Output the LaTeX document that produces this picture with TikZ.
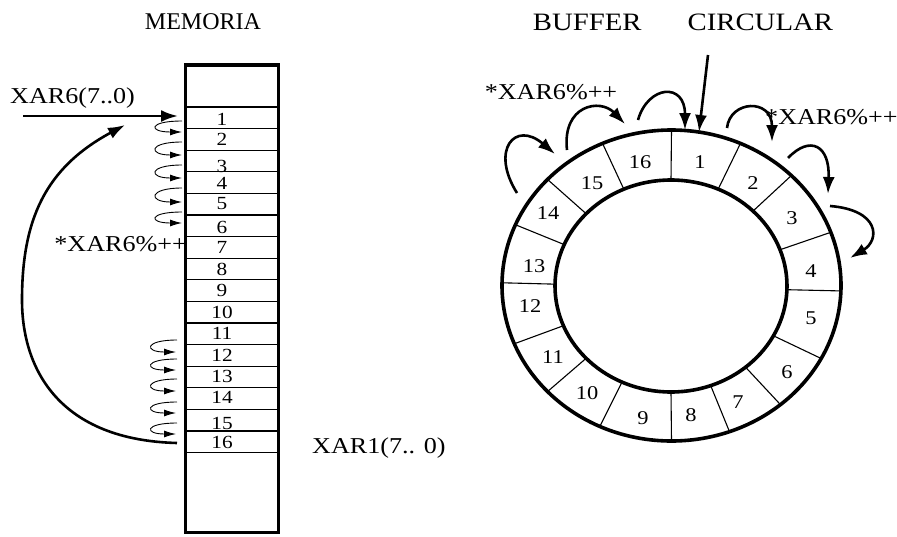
\documentclass[tikz,border=0pt]{standalone}
\usepackage{fontspec}
\setmainfont{Liberation Serif}[FakeStretch=1.15]
\newfontfamily\plainserif{Liberation Serif}
\usetikzlibrary{arrows.meta,calc}

\begin{document}
\begin{tikzpicture}[x=1pt,y=-1pt,
  lbl/.style={inner sep=0pt, font=\fontsize{22.7}{26}\selectfont},
  cellnum/.style={inner sep=0pt, font=\fontsize{18.5}{20}\selectfont},
  ringnum/.style={inner sep=0pt, font=\fontsize{19.5}{22}\selectfont},
  thickarrow/.style={line width=2.6pt, -{Latex[length=17pt,width=12pt]}},
  curl/.style={line width=0.9pt, -{Latex[length=12pt,width=7pt]}},
  ring/.style={line width=3.6pt},
  divider/.style={line width=1.1pt},
  border/.style={draw, line width=3.6pt, inner sep=0pt},
]
\useasboundingbox (0,0) rectangle (897,536);

% ---------- titles ----------
\node[inner sep=0pt, font=\plainserif\fontsize{24}{28}\selectfont] (tmem) at (203,22) {MEMORIA};
\node[inner sep=0pt, font=\fontsize{25}{28}\selectfont] (tbuf) at (683,22)
  {BUFFER\hspace{46pt}CIRCULAR};

% ---------- memory column ----------
\foreach \k in {0,...,16}
  \draw[divider] (185.5,{107+21.6*\k}) -- (278.5,{107+21.6*\k});
\node[border, minimum width=93pt, minimum height=467.5pt] (mem) at (232,298.75) {};

\foreach \n/\y in {1/119,2/139,3/166,4/183,5/204,6/227,7/247,8/269,9/290,10/312,
                   11/333,12/355,13/376,14/397,15/423,16/442}
  \node[cellnum] (cell\n) at (222,\y) {\n};

\node[lbl, anchor=base west] (xar6) at (10,103) {XAR6(7..0)};
\node[lbl, anchor=base east] (incmem) at (187,251) {*XAR6\%++};
\node[lbl, anchor=base west] (xar1) at (312,453) {XAR1(7.. 0)};

% pointer arrow into cell 1
\coordinate (ps) at (23,116);
\coordinate (pt) at (178,116);
\draw[thickarrow] (ps) -- (pt);

% wrap-around arrow from cell 16 back to cell 1
\coordinate (ws) at (177,443);
\coordinate (wt) at (125,125);
\draw[thickarrow] (ws) .. controls (60,440) and (22,370) .. (22,300)
                  .. controls (22,220) and (45,168) .. (wt);

% small step arrows, upper group
\foreach \s/\t in {121/132,142/155,165/178,188/202,212/223}
  \draw[curl] (182,\s) .. controls (148,\s) and (148,\t) .. (182,\t);
% small step arrows, lower group
\foreach \s/\t in {340/352,359/370,379/391,402/413,423/434}
  \draw[curl] (177,\s) .. controls (144,\s) and (144,\t) .. (176,\t);

% ---------- circular buffer ----------
\foreach \a in {90,66,45,20,-2,-28,-50,-70,-90,-115,-137,-158,179,157,137,114}
  \draw[divider] ({671.5+169.5*cos(\a)},{285.5-155.5*sin(\a)})
              -- ({671+116*cos(\a)},{286-106*sin(\a)});
\draw[ring] (671.5,285.5) ellipse [x radius=169.5pt, y radius=155.5pt];
\draw[ring] (671,286) ellipse [x radius=116pt, y radius=106pt];

\foreach \n/\x/\y in {1/700/162,2/753/183,3/792/218,4/811/271,5/811/318,6/787/372,
                      7/738/402,8/691/415,9/643/418,10/587/393,11/553/357,12/530/306,
                      13/534/266,14/548/213,15/592/183,16/640/162}
  \node[ringnum] (r\n) at (\x,\y) {\n};

\node[lbl] (incl) at (551,92) {*XAR6\%++};
\node[lbl, anchor=west] (incr) at (765,117) {*XAR6\%++};

% pointer arrow onto the ring
\coordinate (rps) at (708,55);
\coordinate (rpt) at (699,132);
\draw[thickarrow] (rps) -- (rpt);

% step arrows around the ring
\coordinate (a1s) at (517,193); \coordinate (a1t) at (555,154);
\coordinate (a2s) at (567,150); \coordinate (a2t) at (625,124);
\coordinate (a3s) at (638,120); \coordinate (a3t) at (685,130);
\coordinate (a4s) at (727,128); \coordinate (a4t) at (772,142);
\coordinate (a5s) at (788,158); \coordinate (a5t) at (828,194);
\coordinate (a6s) at (830,206); \coordinate (a6t) at (850,258);
\draw[thickarrow] (a1s) .. controls (490,150) and (515,120) .. (a1t);
\draw[thickarrow] (a2s) .. controls (562,105) and (600,98) .. (a2t);
\draw[thickarrow] (a3s) .. controls (648,85) and (685,82) .. (a3t);
\draw[thickarrow] (a4s) .. controls (730,100) and (772,98) .. (a4t);
\draw[thickarrow] (a5s) .. controls (810,135) and (830,145) .. (a5t);
\draw[thickarrow] (a6s) .. controls (880,210) and (880,240) .. (a6t);
\end{tikzpicture}
\end{document}
